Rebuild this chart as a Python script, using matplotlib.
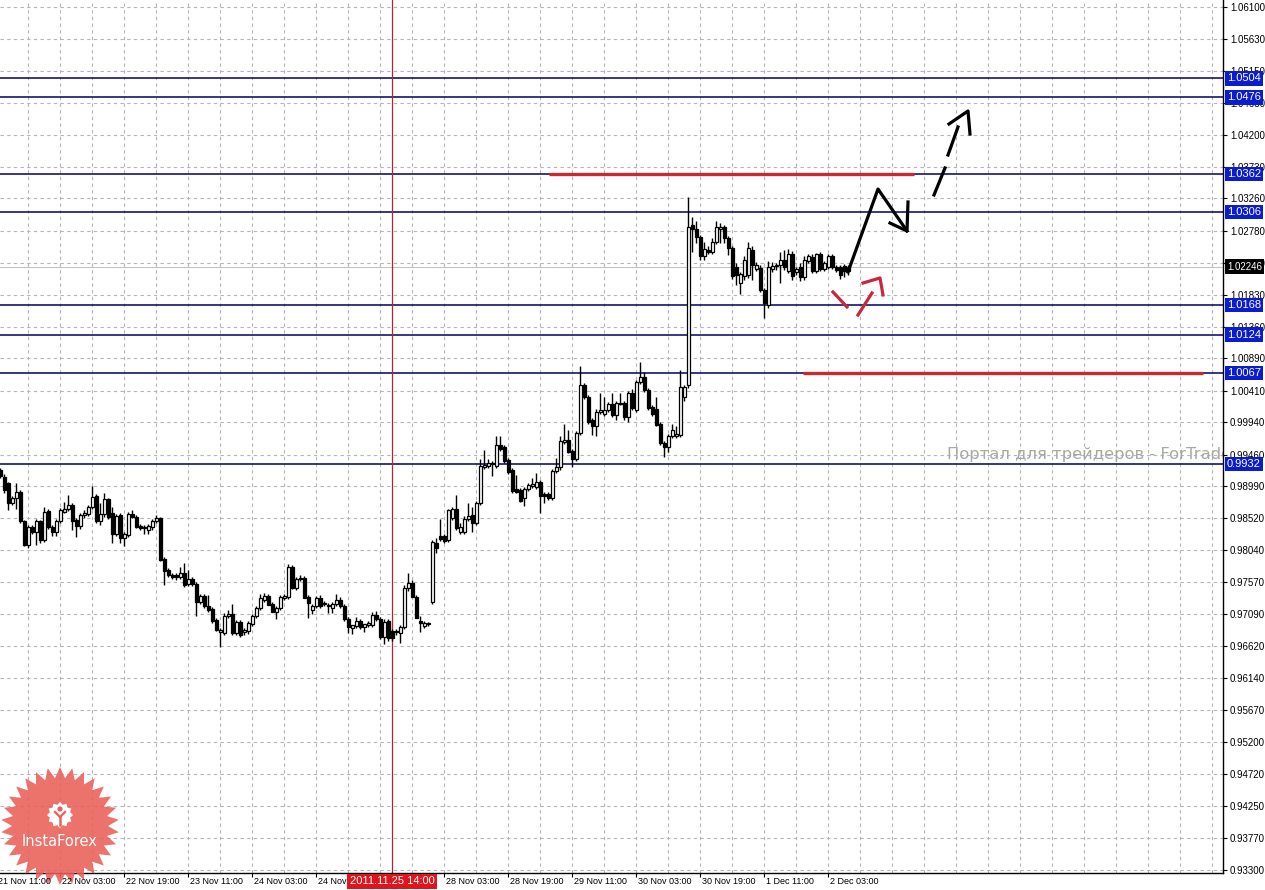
import matplotlib
matplotlib.use('Agg')
import matplotlib.pyplot as plt
import matplotlib.transforms as mtransforms
from matplotlib.patches import Polygon, Circle
import numpy as np

# ---- H1 candles (bar 1 = 21 Nov 12:00 ... bar 213 = 2 Dec 08:00) ----
opens = [
    .9923, .9913, .9904, .9875, .9881, .9891, .9847, .9812, .9839, .9832,
    .9847, .9820, .9863, .9839, .9832, .9847, .9861, .9865, .9871, .9849,
    .9840, .9856, .9858, .9869, .9884, .9847, .9858, .9880, .9860, .9829,
    .9856, .9823, .9827, .9858, .9854, .9840, .9837, .9834, .9839, .9847,
    .9852, .9791, .9775, .9768, .9767, .9764, .9770, .9754, .9762, .9754,
    .9728, .9736, .9722, .9717, .9701, .9683, .9682, .9706, .9710, .9681,
    .9698, .9683, .9685, .9695, .9706, .9718, .9731, .9737, .9724, .9712,
    .9718, .9734, .9735, .9780, .9748, .9761, .9763, .9735, .9716, .9721,
    .9733, .9725, .9723, .9718, .9725, .9731, .9721, .9702, .9689, .9692,
    .9699, .9691, .9693, .9693, .9708, .9702, .9676, .9699, .9685, .9683,
    .9681, .9691, .9748, .9756, .9735, .9699, .9692, .9695, .9728, .9815,
    .9826, .9825, .9820, .9852, .9866, .9832, .9832, .9850, .9856, .9844,
    .9875, .9927, .9929, .9934, .9929, .9961, .9957, .9938, .9923, .9895,
    .9893, .9881, .9895, .9899, .9898, .9906, .9887, .9887, .9882, .9922,
    .9927, .9965, .9968, .9952, .9940, .9978, 1.0049, 1.0032, .9997, .9988,
    1.0009, 1.0007, 1.0012, 1.0021, 1.0005, 1.0021, 1.0023, 1.0002, 1.0038, 1.0012,
    1.0054, 1.0061, 1.0042, 1.0017, 1.0014, .9992, .9963, .9958, .9973, .9974,
    .9975, 1.0032, 1.0049, 1.0286, 1.0281, 1.0269, 1.0240, 1.0250, 1.0247, 1.0261,
    1.0280, 1.0284, 1.0267, 1.0252, 1.0225, 1.0201, 1.0211, 1.0213, 1.0250, 1.0222,
    1.0223, 1.0190, 1.0168, 1.0221, 1.0226, 1.0228, 1.0235, 1.0218, 1.0243, 1.0217,
    1.0225, 1.0210, 1.0233, 1.0239, 1.0218, 1.0243, 1.0221, 1.0224, 1.0240, 1.0225,
    1.0224, 1.0226, 1.0218,
]
highs = [
    .9926, .9918, .9906, .9884, .9904, .9893, .9849, .9842, .9842, .9850,
    .9849, .9869, .9866, .9842, .9850, .9867, .9876, .9886, .9874, .9852,
    .9859, .9864, .9872, .9899, .9887, .9874, .9889, .9882, .9869, .9858,
    .9860, .9832, .9861, .9864, .9857, .9843, .9841, .9843, .9851, .9856,
    .9854, .9794, .9778, .9771, .9770, .9780, .9785, .9775, .9765, .9757,
    .9740, .9740, .9738, .9720, .9704, .9689, .9711, .9716, .9725, .9701,
    .9701, .9689, .9700, .9710, .9721, .9740, .9741, .9740, .9727, .9722,
    .9738, .9740, .9784, .9783, .9764, .9768, .9766, .9738, .9725, .9736,
    .9738, .9729, .9726, .9728, .9740, .9735, .9724, .9705, .9693, .9705,
    .9702, .9695, .9700, .9712, .9714, .9705, .9702, .9702, .9688, .9688,
    .9694, .9752, .9771, .9760, .9738, .9706, .9699, .9698, .9820, .9822,
    .9851, .9828, .9865, .9869, .9886, .9844, .9855, .9874, .9869, .9878,
    .9939, .9953, .9939, .9937, .9973, .9974, .9960, .9941, .9926, .9916,
    .9896, .9898, .9904, .9912, .9919, .9909, .9890, .9890, .9925, .9941,
    .9974, .9992, .9983, .9955, .9981, 1.0077, 1.0052, 1.0035, 1.0000, 1.0013,
    1.0037, 1.0032, 1.0024, 1.0037, 1.0026, 1.0037, 1.0026, 1.0041, 1.0044, 1.0057,
    1.0084, 1.0069, 1.0045, 1.0020, 1.0032, .9995, .9966, .9976, .9992, .9988,
    1.0072, 1.0050, 1.0328, 1.0299, 1.0292, 1.0272, 1.0262, 1.0255, 1.0267, 1.0292,
    1.0289, 1.0287, 1.0270, 1.0255, 1.0230, 1.0217, 1.0240, 1.0262, 1.0255, 1.0232,
    1.0228, 1.0193, 1.0233, 1.0232, 1.0230, 1.0247, 1.0250, 1.0251, 1.0248, 1.0225,
    1.0230, 1.0240, 1.0243, 1.0243, 1.0245, 1.0246, 1.0233, 1.0243, 1.0243, 1.0228,
    1.0227, 1.0229, 1.0228,
]
lows = [
    .9911, .9889, .9864, .9872, .9866, .9844, .9810, .9807, .9829, .9812,
    .9815, .9817, .9836, .9826, .9826, .9845, .9859, .9862, .9834, .9824,
    .9836, .9852, .9855, .9866, .9844, .9841, .9854, .9850, .9815, .9826,
    .9815, .9810, .9824, .9852, .9837, .9834, .9829, .9829, .9834, .9844,
    .9788, .9753, .9764, .9762, .9760, .9761, .9750, .9751, .9751, .9706,
    .9725, .9718, .9713, .9697, .9684, .9661, .9679, .9703, .9679, .9678,
    .9676, .9679, .9680, .9692, .9703, .9715, .9728, .9723, .9712, .9702,
    .9716, .9731, .9732, .9747, .9745, .9758, .9734, .9703, .9710, .9718,
    .9719, .9722, .9711, .9711, .9722, .9718, .9700, .9682, .9680, .9689,
    .9688, .9683, .9690, .9690, .9700, .9673, .9665, .9670, .9670, .9678,
    .9666, .9688, .9744, .9735, .9703, .9683, .9689, .9692, .9725, .9800,
    .9818, .9815, .9817, .9849, .9834, .9829, .9829, .9847, .9832, .9841,
    .9872, .9925, .9926, .9914, .9926, .9952, .9933, .9918, .9889, .9889,
    .9876, .9870, .9892, .9897, .9895, .9860, .9874, .9879, .9879, .9919,
    .9924, .9962, .9948, .9927, .9937, .9975, 1.0029, .9992, .9975, .9974,
    1.0006, 1.0004, 1.0009, 1.0002, .9998, 1.0019, .9997, .9995, 1.0012, 1.0009,
    1.0051, 1.0039, 1.0012, 1.0004, .9988, .9960, .9943, .9950, .9970, .9971,
    .9972, 1.0025, 1.0045, 1.0247, 1.0260, 1.0235, 1.0235, 1.0243, 1.0244, 1.0258,
    1.0260, 1.0260, 1.0242, 1.0207, 1.0198, 1.0185, 1.0205, 1.0208, 1.0205, 1.0218,
    1.0187, 1.0148, 1.0163, 1.0217, 1.0220, 1.0200, 1.0220, 1.0215, 1.0205, 1.0212,
    1.0204, 1.0205, 1.0230, 1.0215, 1.0215, 1.0218, 1.0218, 1.0221, 1.0221, 1.0217,
    1.0207, 1.0210, 1.0213,
]
closes = [
    .9914, .9894, .9875, .9881, .9891, .9847, .9812, .9839, .9832, .9847,
    .9820, .9861, .9839, .9832, .9847, .9864, .9866, .9871, .9848, .9840,
    .9856, .9859, .9869, .9883, .9847, .9858, .9880, .9853, .9829, .9855,
    .9823, .9828, .9858, .9854, .9839, .9837, .9839, .9840, .9848, .9852,
    .9790, .9774, .9767, .9765, .9764, .9770, .9753, .9762, .9754, .9728,
    .9736, .9721, .9715, .9700, .9686, .9686, .9706, .9710, .9681, .9698,
    .9679, .9686, .9697, .9707, .9718, .9733, .9737, .9723, .9712, .9719,
    .9735, .9736, .9780, .9748, .9761, .9763, .9734, .9726, .9722, .9733,
    .9722, .9725, .9721, .9725, .9731, .9721, .9702, .9690, .9693, .9699,
    .9691, .9695, .9697, .9708, .9702, .9676, .9698, .9674, .9674, .9685,
    .9691, .9748, .9756, .9735, .9703, .9697, .9696, .9695, .9817, .9808,
    .9821, .9818, .9864, .9866, .9837, .9839, .9851, .9855, .9844, .9875,
    .9929, .9931, .9934, .9932, .9960, .9955, .9936, .9921, .9892, .9891,
    .9878, .9895, .9901, .9903, .9906, .9884, .9884, .9882, .9922, .9927,
    .9967, .9968, .9950, .9940, .9978, 1.0049, 1.0032, .9995, .9988, 1.0010,
    1.0012, 1.0012, 1.0021, 1.0005, 1.0023, 1.0023, 1.0002, 1.0038, 1.0015, 1.0054,
    1.0061, 1.0042, 1.0015, 1.0007, .9990, .9963, .9958, .9973, .9983, .9977,
    1.0047, 1.0047, 1.0284, 1.0281, 1.0269, 1.0240, 1.0251, 1.0247, 1.0261, 1.0283,
    1.0284, 1.0267, 1.0252, 1.0211, 1.0212, 1.0214, 1.0235, 1.0252, 1.0228, 1.0227,
    1.0190, 1.0171, 1.0225, 1.0226, 1.0227, 1.0235, 1.0224, 1.0243, 1.0211, 1.0221,
    1.0209, 1.0235, 1.0240, 1.0218, 1.0243, 1.0221, 1.0230, 1.0240, 1.0224, 1.0220,
    1.0213, 1.0218, 1.02246,
]
bars = np.arange(1, len(closes) + 1)

# ---- levels and labels ----
level_values = [1.0504, 1.0476, 1.0362, 1.0306, 1.0168, 1.0124, 1.0067, 0.9932]
level_labels = ['1.0504', '1.0476', '1.0362', '1.0306', '1.0168', '1.0124', '1.0067', '0.9932']
last_price = 1.02246
last_label = '1.02246'

y_tick_labels = ['1.06100', '1.05630', '1.05150', '1.04680', '1.04200', '1.03730', '1.03260',
                 '1.02780', '1.02310', '1.01830', '1.01360', '1.00890', '1.00410', '0.99940',
                 '0.99460', '0.98990', '0.98520', '0.98040', '0.97570', '0.97090', '0.96620',
                 '0.96140', '0.95670', '0.95200', '0.94720', '0.94250', '0.93770', '0.93300']

# the 24 Nov 19:00 label is mostly hidden by the cursor box, 25 Nov 11:00 fully
x_label_bars = [0, 16, 32, 48, 64, 80, 112, 128, 144, 160, 176, 192, 208]
x_labels = ['21 Nov 11:00', '22 Nov 03:00', '22 Nov 19:00', '23 Nov 11:00', '24 Nov 03:00',
            '24 Nov', '28 Nov 03:00', '28 Nov 19:00', '29 Nov 11:00',
            '30 Nov 03:00', '30 Nov 19:00', '1 Dec 11:00', '2 Dec 03:00']
x_tick_bars = [16, 32, 48, 64, 80, 96, 112, 128, 144, 160, 176, 192, 208]
marker_bar = 99
marker_label = '2011.11.25 14:00'

# hand drawn marks (bar, price)
red_levels = [1.0362, 1.0067]
red_starts = [138.25, 201.75]
red_ends = [229.5, 301.75]
black_path_bars = [213, 220.5, 227.75]
black_path_prices = [1.0217, 1.0340, 1.02778]
black_head_bars = [223.5, 227.75, 228]
black_head_prices = [1.02896, 1.02778, 1.03208]
dash_segments = [((234.5, 1.03312), (237.25, 1.03712)), ((238, 1.03905), (240.5, 1.04320))]
dash_head_bars = [238.25, 243, 243.5]
dash_head_prices = [1.04365, 1.04558, 1.04216]
red_marks = [([209.25, 212.75], [1.01873, 1.01651]),
             ([215.5, 219], [1.01532, 1.01858]),
             ([216.75, 221, 221.75], [1.02006, 1.02081, 1.01829])]

W, H = 1265, 890
fig = plt.figure(figsize=(W / 100, H / 100), dpi=100)
fig.patch.set_facecolor('white')
ax = fig.add_axes([0, 1 - 873 / H, 1223 / W, 873 / H])
ax.set_xlim(1, 306.75)
ax.set_ylim(0.93255, 1.06204)

for side in ['left', 'top']:
    ax.spines[side].set_visible(False)
for side in ['right', 'bottom']:
    ax.spines[side].set_color('black')
    ax.spines[side].set_linewidth(1.0)
    ax.spines[side].set_zorder(8)

# grid
grid_style = dict(color='#b5b5b5', lw=0.8, ls=(0, (3, 3)), zorder=0.5)
for v in y_tick_labels:
    ax.axhline(float(v), **grid_style)
for g in range(8, 307, 8):
    ax.axvline(g, **grid_style)

# right axis
ax.yaxis.tick_right()
ax.set_yticks([float(v) for v in y_tick_labels])
ax.set_yticklabels(y_tick_labels, family='Liberation Sans', fontsize=7)
ax.tick_params(axis='y', length=3, width=0.8, pad=2, colors='black')
ax.set_xticks(x_tick_bars)
ax.tick_params(axis='x', length=3, width=0.8, labelbottom=False)

# levels
for v in level_values:
    ax.axhline(v, color='#000066', lw=1.1, zorder=2)
ax.axhline(last_price, color='#c4c4c4', lw=0.8, zorder=1.5)
ax.axvline(marker_bar, color='#c0202e', lw=0.9, zorder=2)

# candles
o = np.array(opens)
c = np.array(closes)
lo = np.array(lows)
hi = np.array(highs)
ax.vlines(bars, lo, hi, color='black', lw=1.0, zorder=3)
body_bottom = np.minimum(o, c)
body_height = np.maximum(np.abs(c - o), 0.00006)
face = ['white' if cc >= oo else 'black' for oo, cc in zip(o, c)]
ax.bar(bars, body_height, bottom=body_bottom, width=0.75, color=face,
       edgecolor='black', linewidth=0.9, zorder=4)

# drawn annotations
for lvl, x0, x1 in zip(red_levels, red_starts, red_ends):
    ax.plot([x0, x1], [lvl, lvl], color='#cc2830', lw=2.4, zorder=5, solid_capstyle='butt')
ax.plot(black_path_bars, black_path_prices, color='black', lw=2.3, zorder=6)
ax.plot(black_head_bars, black_head_prices, color='black', lw=2.3, zorder=6)
for (p0, p1) in dash_segments:
    ax.plot([p0[0], p1[0]], [p0[1], p1[1]], color='black', lw=2.3, zorder=6)
ax.plot(dash_head_bars, dash_head_prices, color='black', lw=2.3, zorder=6)
for xs, ys in red_marks:
    ax.plot(xs, ys, color='#c8283a', lw=2.3, zorder=6)

# watermark
ax.text(237.75, 0.9946, 'Портал для трейдеров - ForTrader.ru', color='#a8a8a8',
        fontsize=11.8, family='DejaVu Sans', va='center', ha='left', zorder=1, clip_on=True)

# level boxes on the price axis
ytrans = mtransforms.blended_transform_factory(ax.transAxes, ax.transData)
for v, lab in zip(level_values, level_labels):
    ax.text(1.0 + 4 / 1223, v, lab, transform=ytrans, ha='left', va='center', color='white',
            fontsize=8, family='Liberation Sans', clip_on=False, zorder=10,
            bbox=dict(boxstyle='square,pad=0.2', fc='#0b1ccf', ec='none'))
ax.text(1.0 + 4 / 1223, last_price, last_label, transform=ytrans, ha='left', va='center',
        color='white', fontsize=7, family='Liberation Sans', clip_on=False, zorder=10,
        bbox=dict(boxstyle='square,pad=0.25', fc='black', ec='none'))

# time labels
xtrans = mtransforms.blended_transform_factory(ax.transData, ax.transAxes)
for b, lab in zip(x_label_bars, x_labels):
    ax.text(b + 0.5, -0.005, lab, transform=xtrans, ha='left', va='top', fontsize=6.5,
            family='Liberation Sans', color='black', clip_on=False, zorder=11)
ax.text(marker_bar, -0.004, marker_label, transform=xtrans, ha='center', va='top',
        fontsize=8, family='Liberation Sans', color='white', clip_on=False, zorder=12,
        bbox=dict(boxstyle='square,pad=0.2', fc='#e0141c', ec='none'))

# InstaForex badge (pixel coordinates, y from the top)
pix = mtransforms.Affine2D().scale(1, -1).translate(0, H)
cx, cy = 60, 826
n = 30
ang = np.linspace(0, 2 * np.pi, 2 * n, endpoint=False) - np.pi / 2
rad = np.where(np.arange(2 * n) % 2 == 0, 59, 48)
star = Polygon(np.column_stack([cx + rad * np.cos(ang), cy + rad * np.sin(ang)]),
               closed=True, fc='#ea5f58', ec='none', alpha=0.88, transform=pix,
               clip_on=False, zorder=9)
ax.add_patch(star)
gang = np.linspace(0, 2 * np.pi, 24, endpoint=False)
grad = np.where(np.arange(24) % 2 == 0, 13, 10.5)
gear = Polygon(np.column_stack([cx + grad * np.cos(gang), 815 + grad * np.sin(gang)]),
               closed=True, fc='white', ec='none', transform=pix, clip_on=False, zorder=9.5)
ax.add_patch(gear)
ax.add_patch(Circle((cx, 809), 2.6, fc='#ea5f58', ec='none', transform=pix,
                    clip_on=False, zorder=9.6))
ax.plot([cx - 5, cx, cx + 5], [812, 817, 812], color='#ea5f58', lw=1.6, transform=pix,
        clip_on=False, zorder=9.6)
ax.plot([cx, cx], [817, 825], color='#ea5f58', lw=1.8, transform=pix,
        clip_on=False, zorder=9.6)
ax.text(cx, 842, 'InstaForex', color='white', fontsize=10.5, family='DejaVu Sans',
        ha='center', va='center', transform=pix, clip_on=False, zorder=9.7)

fig.savefig('out.png', dpi=100, facecolor='white')
